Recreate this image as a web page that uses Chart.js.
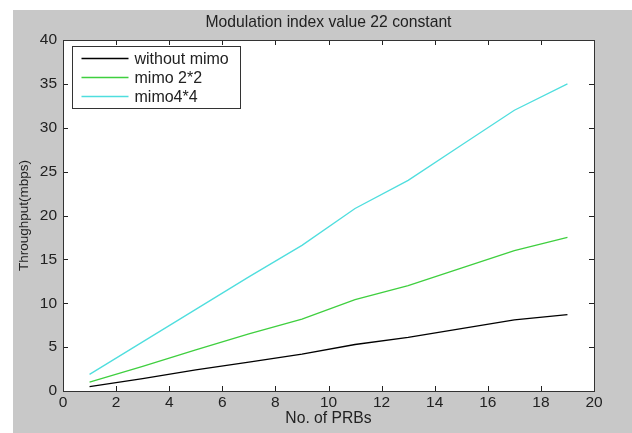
<!DOCTYPE html>
<html lang="en">
<head>
<meta charset="UTF-8">
<title>Modulation index value 22 constant</title>
<script src="https://cdn.jsdelivr.net/npm/chart.js@4.4.0/dist/chart.umd.min.js"></script>
<style>
  html, body { margin: 0; padding: 0; background: #fff; }
  #wrap { position: relative; width: 632px; height: 433px; }
</style>
</head>
<body>
<div id="wrap"><canvas id="chart" width="632" height="433"></canvas></div>
<script>
// data
const prbs = [1, 3, 5, 7, 9, 11, 13, 15, 17, 19];
const withoutMimo = [0.5, 1.4, 2.4, 3.3, 4.2, 5.3, 6.1, 7.1, 8.1, 8.7];
const mimo2x2 = [1.0, 2.8, 4.7, 6.5, 8.2, 10.4, 12.0, 14.0, 16.0, 17.5];
const mimo4x4 = [1.9, 5.6, 9.3, 13.0, 16.6, 20.8, 24.0, 28.0, 32.0, 35.0];
const seriesNames = ["without mimo", "mimo 2*2", "mimo4*4"];
const seriesColors = ["#000000", "#3fcf3f", "#4fdede"];
const chartTitle = "Modulation index value 22 constant";

const FONT = "Arial, 'Liberation Sans', sans-serif";

function pts(ys) {
  return prbs.map((x, i) => ({ x: x, y: ys[i] }));
}

// grey figure background + white axes area, title over the axes
const backdrop = {
  id: "backdrop",
  beforeDraw(chart) {
    const { ctx, chartArea: a } = chart;
    ctx.save();
    ctx.fillStyle = "#c8c8c8";
    ctx.fillRect(13, 10, chart.width - 13, chart.height - 10);
    ctx.fillStyle = "#ffffff";
    ctx.fillRect(a.left, a.top, a.right - a.left, a.bottom - a.top);
    ctx.fillStyle = "#222";
    ctx.font = "15.7px " + FONT;
    ctx.textAlign = "center";
    ctx.textBaseline = "middle";
    ctx.fillText(chartTitle, (a.left + a.right) / 2, 23);
    ctx.restore();
  }
};

// matlab style box with inward ticks on all four sides
const boxTicks = {
  id: "boxTicks",
  afterDatasetsDraw(chart) {
    const { ctx, chartArea: a, scales } = chart;
    const len = 5;
    ctx.save();
    ctx.strokeStyle = "#222";
    ctx.lineWidth = 1;
    ctx.beginPath();
    scales.x.ticks.forEach(t => {
      const px = Math.round(scales.x.getPixelForValue(t.value)) + 0.5;
      ctx.moveTo(px, a.bottom); ctx.lineTo(px, a.bottom - len);
      ctx.moveTo(px, a.top); ctx.lineTo(px, a.top + len);
    });
    scales.y.ticks.forEach(t => {
      const py = Math.round(scales.y.getPixelForValue(t.value)) + 0.5;
      ctx.moveTo(a.left, py); ctx.lineTo(a.left + len, py);
      ctx.moveTo(a.right, py); ctx.lineTo(a.right - len, py);
    });
    ctx.stroke();
    ctx.strokeStyle = "#333";
    ctx.strokeRect(Math.round(a.left) + 0.5, Math.round(a.top) + 0.5,
      Math.round(a.right - a.left), Math.round(a.bottom - a.top));
    ctx.restore();
  }
};

// legend box in the upper left corner
const boxLegend = {
  id: "boxLegend",
  afterDraw(chart) {
    const { ctx, chartArea: a } = chart;
    const x0 = a.left + 9.5, y0 = a.top + 6.5, w = 168, h = 62;
    ctx.save();
    ctx.fillStyle = "#fff";
    ctx.fillRect(x0, y0, w, h);
    ctx.strokeStyle = "#333";
    ctx.lineWidth = 1;
    ctx.strokeRect(x0, y0, w, h);
    ctx.font = "16px " + FONT;
    ctx.textBaseline = "middle";
    chart.data.datasets.forEach((ds, i) => {
      const y = y0 + 12 + i * 19;
      ctx.strokeStyle = ds.borderColor;
      ctx.lineWidth = 1.3;
      ctx.beginPath();
      ctx.moveTo(x0 + 9, y);
      ctx.lineTo(x0 + 56, y);
      ctx.stroke();
      ctx.fillStyle = "#222";
      ctx.fillText(ds.label, x0 + 62, y + 1);
    });
    ctx.restore();
  }
};

new Chart(document.getElementById("chart"), {
  type: "line",
  data: {
    datasets: [withoutMimo, mimo2x2, mimo4x4].map((ys, i) => ({
      label: seriesNames[i],
      data: pts(ys),
      borderColor: seriesColors[i],
      backgroundColor: seriesColors[i],
      borderWidth: 1.3,
      pointRadius: 0,
      tension: 0,
      fill: false
    }))
  },
  options: {
    responsive: false,
    animation: false,
    layout: { padding: { left: 13, top: 40, right: 38, bottom: 0 } },
    plugins: {
      legend: { display: false },
      tooltip: { enabled: false },
      title: { display: false }
    },
    scales: {
      x: {
        type: "linear",
        min: 0, max: 20,
        grid: { display: false, drawTicks: false },
        border: { display: false },
        ticks: { stepSize: 2, padding: 2, color: "#222", font: { family: FONT, size: 15.5 } },
        title: {
          display: true, text: "No. of PRBs", color: "#222",
          font: { family: FONT, size: 15.7 }, padding: { top: 0, bottom: 5 }
        },
        afterFit(scale) { scale.height = 42; }
      },
      y: {
        min: 0, max: 40,
        grid: { display: false, drawTicks: false },
        border: { display: false },
        ticks: { stepSize: 5, padding: 6, color: "#222", font: { family: FONT, size: 15.5 } },
        title: {
          display: true, text: "Throughput(mbps)", color: "#222",
          font: { family: FONT, size: 13.5 }, padding: { top: 3, bottom: 0 }
        },
        afterFit(scale) { scale.width = 50; }
      }
    }
  },
  plugins: [backdrop, boxTicks, boxLegend]
});
</script>
</body>
</html>
